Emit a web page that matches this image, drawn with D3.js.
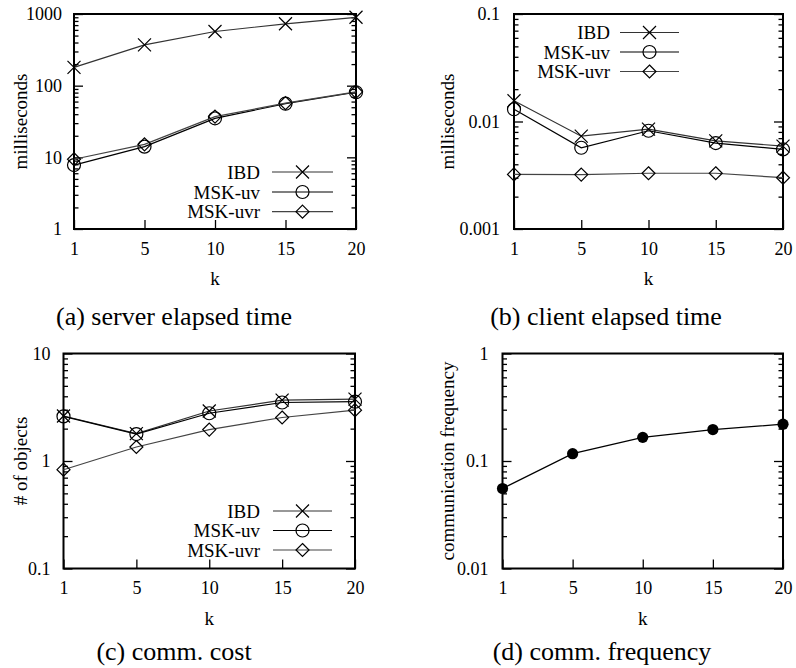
<!DOCTYPE html>
<html><head><meta charset="utf-8">
<script src="https://cdn.jsdelivr.net/npm/d3@7"></script>
<style>
html,body{margin:0;padding:0;background:#fff;}
svg{display:block;font-family:"Liberation Serif","Times New Roman",serif;}
</style></head>
<body>
<svg id="chart" width="796" height="668"></svg>
<script>
// ---------- data ----------
const kLabels = ["1", "5", "10", "15", "20"];
const seriesNames = ["IBD", "MSK-uv", "MSK-uvr"];

// (a) server elapsed time (milliseconds)
const serverIBD    = [180, 370, 570, 730, 900];
const serverMSKuv  = [7.8, 14.1, 35, 56, 81];
const serverMSKuvr = [9.4, 15.2, 37, 57, 82];
const serverTicks  = ["1", "10", "100", "1000"];

// (b) client elapsed time (milliseconds)
const clientIBD    = [0.0156, 0.0073, 0.0085, 0.0066, 0.0059];
const clientMSKuv  = [0.0130, 0.0057, 0.0082, 0.0063, 0.0055];
const clientMSKuvr = [0.00322, 0.00321, 0.0033, 0.0033, 0.0030];
const clientTicks  = ["0.001", "0.01", "0.1"];

// (c) comm. cost (# of objects)
const costIBD    = [2.62, 1.80, 2.92, 3.68, 3.76];
const costMSKuv  = [2.60, 1.78, 2.78, 3.50, 3.56];
const costMSKuvr = [0.83, 1.35, 1.96, 2.54, 2.97];
const costTicks  = ["0.1", "1", "10"];

// (d) comm. frequency
const freqValues = [0.0555, 0.117, 0.166, 0.196, 0.220];
const freqTicks  = ["0.01", "0.1", "1"];

// ---------- layout ----------
const svg = d3.select("#chart");
const TICK_FONT = 18, LABEL_FONT = 19, CAPTION_FONT = 26;

const panels = [
  {box:{l:74, r:356, t:14, b:229}, ticks:serverTicks, ylabel:"milliseconds", ylabelX:20,
   caption:"(a) server elapsed time", capX:174, capY:325, labelGap:12,
   series:[serverIBD, serverMSKuv, serverMSKuvr], legend:{textR:260, x1:272, x2:333, ys:[172,192,211.7]}},
  {box:{l:514, r:783, t:14, b:229}, ticks:clientTicks, ylabel:"milliseconds", ylabelX:447,
   caption:"(b) client elapsed time", capX:606, capY:325, labelGap:14,
   series:[clientIBD, clientMSKuv, clientMSKuvr], legend:{textR:610, x1:620, x2:679, ys:[32.5,52,71.5]}},
  {box:{l:63.5, r:355, t:353.5, b:568.5}, ticks:costTicks, ylabel:"# of objects", ylabelX:20,
   caption:"(c) comm. cost", capX:174, capY:660, labelGap:13,
   series:[costIBD, costMSKuv, costMSKuvr], legend:{textR:260, x1:273, x2:332, ys:[511,530.5,550]}},
  {box:{l:502.5, r:783, t:353.5, b:568.5}, ticks:freqTicks, ylabel:"communication frequency", ylabelX:447.5,
   caption:"(d) comm. frequency", capX:602, capY:660, labelGap:14,
   series:null, single:freqValues}
];

const lineColors = ["#333", "#000", "#444"];

function minorTicks(domain){
  const out = [];
  const lo = Math.round(Math.log10(domain[0])), hi = Math.round(Math.log10(domain[1]));
  for (let e = lo; e < hi; e++) for (let m = 2; m <= 9; m++) out.push(m * Math.pow(10, e));
  return out;
}

function drawMarker(g, type, cx, cy, color){
  const s = 6.5;
  if (type === 0) {
    g.append("path").attr("d", `M${cx-s},${cy-s}L${cx+s},${cy+s}M${cx-s},${cy+s}L${cx+s},${cy-s}`)
      .attr("stroke", color).attr("stroke-width", 1.2).attr("fill", "none");
  } else if (type === 1) {
    g.append("circle").attr("cx", cx).attr("cy", cy).attr("r", 6.5)
      .attr("stroke", color).attr("stroke-width", 1.2).attr("fill", "none");
  } else if (type === 2) {
    g.append("path").attr("d", `M${cx},${cy-s}L${cx+s},${cy}L${cx},${cy+s}L${cx-s},${cy}Z`)
      .attr("stroke", color).attr("stroke-width", 1.2).attr("fill", "none");
  }
}

panels.forEach(p => {
  const b = p.box;
  const tickVals = p.ticks.map(Number);
  const domain = [d3.min(tickVals), d3.max(tickVals)];
  const x = d3.scalePoint().domain(kLabels).range([b.l, b.r]).padding(0);
  const y = d3.scaleLog().domain(domain).range([b.b, b.t]);
  const g = svg.append("g");

  // minor ticks left/right
  const minors = minorTicks(domain);
  const minL = g.append("g").attr("transform", `translate(${b.l},0)`)
    .call(d3.axisLeft(y).tickValues(minors).tickSize(-4.5).tickFormat(""));
  const minR = g.append("g").attr("transform", `translate(${b.r},0)`)
    .call(d3.axisRight(y).tickValues(minors).tickSize(-4.5).tickFormat(""));
  // major ticks left (with labels) and right
  const majL = g.append("g").attr("transform", `translate(${b.l},0)`)
    .call(d3.axisLeft(y).tickValues(tickVals).tickSize(-9).tickPadding(p.labelGap)
      .tickFormat((d,i) => p.ticks[i]));
  const majR = g.append("g").attr("transform", `translate(${b.r},0)`)
    .call(d3.axisRight(y).tickValues(tickVals).tickSize(-9).tickFormat(""));
  // x axis bottom
  const xb = g.append("g").attr("transform", `translate(0,${b.b})`)
    .call(d3.axisBottom(x).tickSize(-9).tickPadding(13));
  [minL, minR, majL, majR, xb].forEach(a => {
    a.select(".domain").remove();
    a.selectAll("line").attr("stroke", "#000").attr("stroke-width", 1.3);
    a.selectAll("text").attr("fill", "#000").attr("font-size", TICK_FONT)
      .attr("font-family", "'Liberation Serif','Times New Roman',serif");
  });

  // frame
  g.append("rect").attr("x", b.l).attr("y", b.t).attr("width", b.r - b.l).attr("height", b.b - b.t)
    .attr("fill", "none").attr("stroke", "#000").attr("stroke-width", 2);

  // axis labels
  g.append("text").attr("x", (b.l + b.r) / 2).attr("y", b.b + 56).attr("text-anchor", "middle")
    .attr("font-size", LABEL_FONT).text("k");
  g.append("text").attr("transform", `translate(${p.ylabelX},${(b.t + b.b) / 2}) rotate(-90)`)
    .attr("text-anchor", "middle").attr("dominant-baseline", "central")
    .attr("font-size", LABEL_FONT).text(p.ylabel);
  // caption
  g.append("text").attr("x", p.capX).attr("y", p.capY).attr("text-anchor", "middle")
    .attr("font-size", CAPTION_FONT).text(p.caption);

  const line = d3.line().x((d, i) => x(kLabels[i])).y(d => y(d));

  if (p.series) {
    p.series.forEach((vals, si) => {
      g.append("path").datum(vals).attr("d", line).attr("fill", "none")
        .attr("stroke", lineColors[si]).attr("stroke-width", 1.2);
      vals.forEach((v, i) => drawMarker(g, si, x(kLabels[i]), y(v), "#000"));
    });
    // legend
    const L = p.legend;
    seriesNames.forEach((name, si) => {
      const yy = L.ys[si];
      g.append("text").attr("x", L.textR).attr("y", yy).attr("text-anchor", "end")
        .attr("dominant-baseline", "central").attr("font-size", LABEL_FONT).text(name);
      g.append("line").attr("x1", L.x1).attr("x2", L.x2).attr("y1", yy).attr("y2", yy)
        .attr("stroke", lineColors[si]).attr("stroke-width", 1.2);
      drawMarker(g, si, (L.x1 + L.x2) / 2, yy, "#000");
    });
  } else {
    g.append("path").datum(p.single).attr("d", line).attr("fill", "none")
      .attr("stroke", "#000").attr("stroke-width", 1.2);
    g.selectAll("circle.pt").data(p.single).enter().append("circle").attr("class", "pt")
      .attr("cx", (d, i) => x(kLabels[i])).attr("cy", d => y(d)).attr("r", 5.6).attr("fill", "#000");
  }
});
</script>
</body></html>
